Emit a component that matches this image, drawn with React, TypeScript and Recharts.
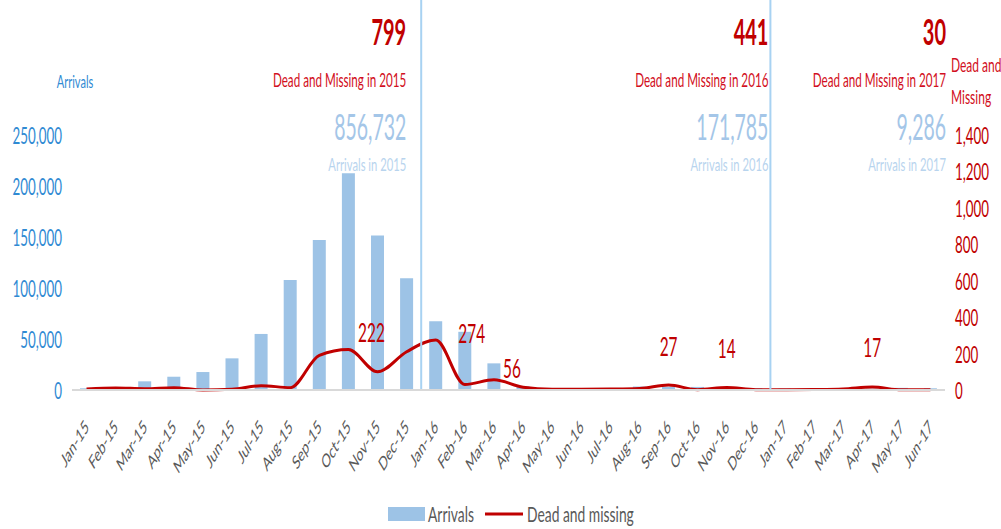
import { Bar, ComposedChart, LabelList, Legend, Line, ReferenceLine, XAxis, YAxis } from 'recharts';

const months = [
  'Jan-15', 'Feb-15', 'Mar-15', 'Apr-15', 'May-15', 'Jun-15', 'Jul-15', 'Aug-15', 'Sep-15', 'Oct-15', 'Nov-15', 'Dec-15',
  'Jan-16', 'Feb-16', 'Mar-16', 'Apr-16', 'May-16', 'Jun-16', 'Jul-16', 'Aug-16', 'Sep-16', 'Oct-16', 'Nov-16', 'Dec-16',
  'Jan-17', 'Feb-17', 'Mar-17', 'Apr-17', 'May-17', 'Jun-17',
];
const arrivals = [
  1700, 2900, 8500, 13000, 17600, 31000, 54900, 107800, 147000, 212400, 151300, 109500,
  67300, 57000, 26100, 3600, 1700, 1500, 1900, 3400, 3100, 3000, 2000, 1800,
  1400, 1100, 1700, 1300, 2100, 1700,
];
const deadAndMissing = [
  5, 11, 7, 13, 0, 4, 24, 13, 190, 222, 100, 210,
  274, 30, 56, 15, 4, 4, 5, 8, 27, 2, 14, 2,
  2, 3, 6, 17, 1, 1,
];
const labelledMonths = ['Oct-15', 'Jan-16', 'Mar-16', 'Sep-16', 'Nov-16', 'Apr-17'];

const arrivalTicks = [0, 50000, 100000, 150000, 200000, 250000];
const deadTicks = [0, 200, 400, 600, 800, 1000, 1200, 1400];

const years = ['2015', '2016', '2017'];
const yearLastMonth = ['Dec-15', 'Dec-16', 'Jun-17'];
const yearDead = [799, 441, 30];
const yearArrivals = [856732, 171785, 9286];

const data = months.map((month, i) => ({ month, arrivals: arrivals[i], dead: deadAndMissing[i] }));

const FONT = 'Lato, sans-serif';
const BLUE = '#2f8ad3';
const BAR = '#9dc3e6';
const DARK_RED = '#c00000';
const RED = '#d20f22';
const GREY = '#595959';
const DIVIDER = '#a8d2f2';

// the original export is squashed sideways, so text gets a horizontal squeeze too
const SQ = 0.63;
const NUM_SQ = 0.54;

// label nudges copied by eye from the original (excel labels were dragged around)
const LABEL_NUDGE: Record<string, [number, number]> = {
  'Oct-15': [23, -18],
  'Jan-16': [36, -8],
  'Mar-16': [18, -12],
};

const fmt = (v: number) => v.toLocaleString('en-US');

function SqText({ x, y, sx = SQ, children, ...rest }: any) {
  return (
    <g transform={`translate(${x} ${y}) scale(${sx} 1)`}>
      <text x={0} y={0} fontFamily={FONT} {...rest}>
        {children}
      </text>
    </g>
  );
}

function MonthTick({ x, y, payload }: any) {
  return (
    <g transform={`translate(${x} ${y + 31}) scale(0.6 1) rotate(-45)`}>
      <text x={0} y={0} textAnchor="end" dominantBaseline="central" fill={GREY} fontSize={19} fontFamily={FONT}>
        {payload.value}
      </text>
    </g>
  );
}

function ValueTick({ x, y, payload, color, anchor }: any) {
  return (
    <SqText x={x} y={y} sx={0.58} textAnchor={anchor} dominantBaseline="central" fill={color} fontSize={23}>
      {fmt(payload.value)}
    </SqText>
  );
}

function YearNote({ viewBox, i, dx }: any) {
  const x = viewBox.x + dx;
  const top = viewBox.y;
  return (
    <g>
      <SqText x={x} y={top + 45} sx={NUM_SQ} textAnchor="end" fontSize={37} fontWeight={700} fill={DARK_RED}>
        {yearDead[i]}
      </SqText>
      <SqText x={x} y={top + 87} textAnchor="end" fontSize={18.5} fill={RED}>
        {`Dead and Missing in ${years[i]}`}
      </SqText>
      <SqText x={x} y={top + 140} sx={NUM_SQ} textAnchor="end" fontSize={36} fill="#a4c6e8">
        {fmt(yearArrivals[i])}
      </SqText>
      <SqText x={x} y={top + 171} sx={0.66} textAnchor="end" fontSize={17} fill="#b8d4ee">
        {`Arrivals in ${years[i]}`}
      </SqText>
    </g>
  );
}

function LeftTitle({ viewBox }: any) {
  return (
    <SqText x={viewBox.x + viewBox.width + 3} y={viewBox.y + 88} sx={0.65} textAnchor="middle" fill={BLUE} fontSize={17}>
      Arrivals
    </SqText>
  );
}

function RightTitle({ viewBox }: any) {
  return (
    <g>
      <SqText x={viewBox.x + 6} y={viewBox.y + 72} sx={0.6} fill={RED} fontSize={20}>
        Dead and
      </SqText>
      <SqText x={viewBox.x + 6} y={viewBox.y + 104} sx={0.6} fill={RED} fontSize={20}>
        Missing
      </SqText>
    </g>
  );
}

function DeadLabel({ x, y, index }: any) {
  const month = months[index];
  if (!labelledMonths.includes(month)) return null;
  const [dx, dy] = LABEL_NUDGE[month] ?? [0, -40];
  return (
    <SqText x={x + dx} y={y + dy} sx={0.57} textAnchor="middle" dominantBaseline="central" fill={DARK_RED} fontSize={27}>
      {deadAndMissing[index]}
    </SqText>
  );
}

function ChartLegend() {
  return (
    <svg width={1001} height={30} style={{ display: 'block' }}>
      <rect x={388} y={8} width={37} height={14} fill={BAR} />
      <SqText x={428} y={23} fill={GREY} fontSize={22}>
        Arrivals
      </SqText>
      <line x1={485} x2={523} y1={15} y2={15} stroke={DARK_RED} strokeWidth={3} />
      <SqText x={527} y={23} fill={GREY} fontSize={22}>
        Dead and missing
      </SqText>
    </svg>
  );
}

export default function App() {
  return (
    <div style={{ position: 'absolute', left: 0, top: 0, width: 1001, height: 529, background: '#fff', fontFamily: FONT }}>
      <ComposedChart width={1001} height={529} data={data} margin={{ top: 0, right: 0, left: 0, bottom: 0 }}>
        <XAxis
          dataKey="month"
          interval={0}
          height={109}
          tickLine={false}
          tickSize={0}
          axisLine={{ stroke: '#d9d9d9', strokeWidth: 2 }}
          tick={<MonthTick />}
        />
        <YAxis
          yAxisId="arr"
          width={72}
          domain={[0, 382000]}
          ticks={arrivalTicks}
          axisLine={false}
          tickLine={false}
          tickSize={0}
          tickMargin={10}
          tick={<ValueTick color={BLUE} anchor="end" />}
          label={<LeftTitle />}
        />
        <YAxis
          yAxisId="dead"
          orientation="right"
          width={56}
          domain={[0, 2140]}
          ticks={deadTicks}
          axisLine={false}
          tickLine={false}
          tickSize={0}
          tickMargin={10}
          tick={<ValueTick color={DARK_RED} anchor="start" />}
          label={<RightTitle />}
        />
        <Legend verticalAlign="bottom" content={<ChartLegend />} />
        <Bar yAxisId="arr" dataKey="arrivals" fill={BAR} barSize={13} isAnimationActive={false} />
        <Line
          yAxisId="dead"
          type="monotone"
          dataKey="dead"
          stroke={DARK_RED}
          strokeWidth={3}
          dot={false}
          activeDot={false}
          isAnimationActive={false}
        >
          <LabelList dataKey="dead" content={<DeadLabel />} />
        </Line>
        {yearLastMonth.map((m, i) => (
          <ReferenceLine
            key={m}
            yAxisId="arr"
            x={m}
            position="end"
            ifOverflow="visible"
            stroke={i < 2 ? DIVIDER : 'none'}
            strokeWidth={2}
            label={<YearNote i={i} dx={[-15, -2, 1][i]} />}
          />
        ))}
      </ComposedChart>
    </div>
  );
}
